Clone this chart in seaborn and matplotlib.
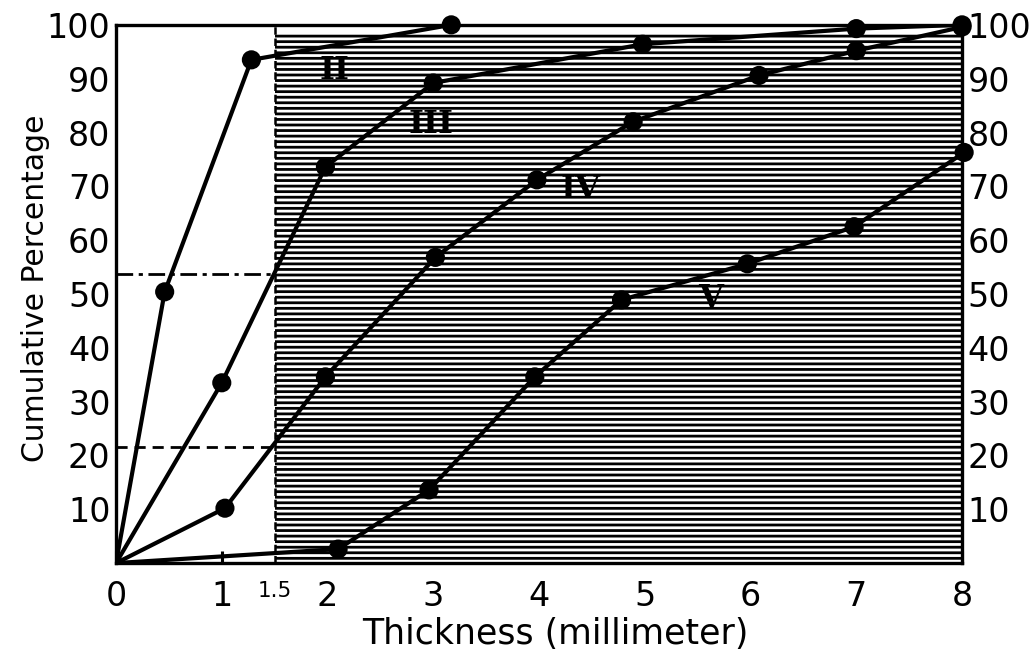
import numpy as np
import pandas as pd
import matplotlib
matplotlib.use("Agg")
import matplotlib.pyplot as plt
import seaborn as sns

# ---- data ----
ii_x = [0, 0.46, 1.28, 3.17]
ii_y = [0, 50.4, 93.5, 100]
iii_x = [0, 1.0, 1.98, 3.0, 4.98, 7.0, 8.0]
iii_y = [0, 33.5, 73.6, 89.2, 96.4, 99.3, 100]
iv_x = [0, 1.03, 1.98, 3.02, 3.98, 4.89, 6.08, 7.0, 8.0]
iv_y = [0, 10.2, 34.6, 56.8, 71.2, 82.0, 90.6, 95.2, 99.6]
v_x = [0, 2.1, 2.96, 3.96, 4.78, 5.97, 6.98, 8.02]
v_y = [0, 2.6, 13.6, 34.6, 48.9, 55.6, 62.5, 76.3]
series_names = ["II", "III", "IV", "V"]
label_pos = {"II": (2.07, 91.6), "III": (2.98, 81.4), "IV": (4.39, 69.5), "V": (5.62, 49.1)}
cut_x = 1.5
dashdot_y = 53.7
dashed_y = 21.6
hatch_top = 98.6
yticks = [10, 20, 30, 40, 50, 60, 70, 80, 90, 100]
xticks = [0, 1, 2, 3, 4, 5, 6, 7, 8]

rows = []
for name, xs, ys in zip(series_names, [ii_x, iii_x, iv_x, v_x], [ii_y, iii_y, iv_y, v_y]):
    for i, (a, b) in enumerate(zip(xs, ys)):
        rows.append({"series": name, "x": a, "y": b, "idx": i})
df = pd.DataFrame(rows)

sns.set_theme(style="white")
plt.rcParams["font.family"] = ["DejaVu Sans"]
plt.rcParams["text.color"] = "black"
plt.rcParams["hatch.linewidth"] = 2.0
plt.rcParams["hatch.color"] = "black"

fig = plt.figure(figsize=(10.36, 6.54), dpi=100)
ax = fig.add_axes([0.112, 0.139, 0.8166, 0.823])

# hatched region
ax.fill_between([cut_x, 8], 0, hatch_top, facecolor="white", edgecolor="black",
                hatch="---", linewidth=0, zorder=1)

# reference lines
ax.plot([0, cut_x], [dashdot_y, dashdot_y], color="black", lw=2, ls=(0, (6, 2, 1.5, 2)), zorder=2)
ax.plot([0, cut_x], [dashed_y, dashed_y], color="black", lw=2, ls=(0, (4, 2.5)), zorder=2)
ax.plot([cut_x, cut_x], [0, 100], color="black", lw=1.8, ls=(0, (3, 1.5)), zorder=2)

pal = {n: "black" for n in series_names}
sns.lineplot(data=df, x="x", y="y", hue="series", palette=pal, sort=False,
             estimator=None, lw=3.0, legend=False, ax=ax, zorder=3)
sns.scatterplot(data=df[df["idx"] > 0], x="x", y="y", hue="series", palette=pal,
                s=190, edgecolor="black", linewidth=0, legend=False, ax=ax, zorder=4,
                clip_on=False)

for name in series_names:
    px, py = label_pos[name]
    ax.text(px, py, name, fontsize=23, fontweight="bold", family="DejaVu Serif",
            color="black", ha="center", va="center", zorder=5)

ax.set_xlim(0, 8)
ax.set_ylim(0, 100)
ax.set_xticks(xticks)
ax.set_xticklabels([str(t) for t in xticks])
ax.set_xticks([cut_x], minor=True)
ax.set_xticklabels(["1.5"], minor=True)
ax.set_yticks(yticks)
ax.tick_params(axis="both", which="major", direction="in", length=9, width=2.2,
               labelsize=24, color="black", labelcolor="black")
ax.tick_params(axis="x", which="minor", direction="in", length=0, width=0,
               labelsize=15.5, labelcolor="black", pad=13)
ax.tick_params(axis="y", which="major", pad=4)
ax.tick_params(axis="x", which="major", pad=12)
ax.tick_params(axis="y", which="major", right=True, labelright=True)
ax.tick_params(axis="x", which="both", bottom=True)
for s in ax.spines.values():
    s.set_color("black")
    s.set_linewidth(2.4)
    s.set_visible(True)

ax.set_xlabel("Thickness (millimeter)", fontsize=25, color="black")
ax.set_ylabel("Cumulative Percentage", fontsize=21.5, color="black")
ax.xaxis.set_label_coords(0.519, -0.100)
ax.yaxis.set_label_coords(-0.078, 0.511)

fig.savefig("out.png", dpi=100)
